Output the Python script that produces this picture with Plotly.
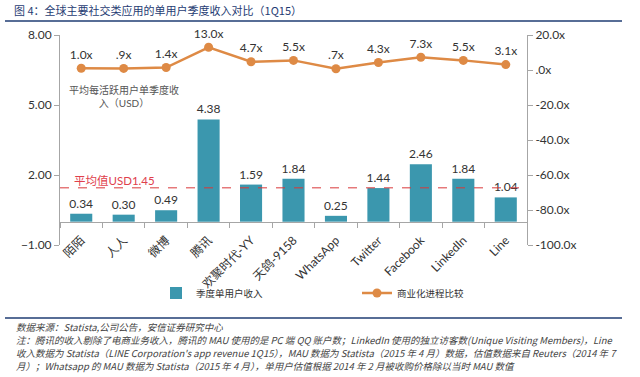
import plotly.graph_objects as go

# ---------------- data ----------------
categories = ["陌陌", "人人", "微博", "腾讯", "欢聚时代-YY", "天鸽-9158",
              "WhatsApp", "Twitter", "Facebook", "LinkedIn", "Line"]
revenue_per_user = [0.34, 0.30, 0.49, 4.38, 1.59, 1.84, 0.25, 1.44, 2.46, 1.84, 1.04]
commercialization = [1.0, 0.9, 1.4, 13.0, 4.7, 5.5, 0.7, 4.3, 7.3, 5.5, 3.1]
average_revenue = 1.45
left_ticks = [-1, 2, 5, 8]
right_ticks = [-100, -80, -60, -40, -20, 0, 20]
right_tick_labels = ["-100.0x", "-80.0x", "-60.0x", "-40.0x", "-20.0x", ".0x", "20.0x"]

series_bar_name = "季度单用户收入"
series_line_name = "商业化进程比较"
title_text = "图 4：全球主要社交类应用的单用户季度收入对比（1Q15）"
footnotes = [
    "数据来源：Statista,公司公告，安信证券研究中心",
    "注：腾讯的收入剔除了电商业务收入，腾讯的 MAU 使用的是 PC 端 QQ 账户数；LinkedIn 使用的独立访客数(Unique Visiting Members)，Line",
    "收入数据为 Statista（LINE Corporation's app revenue 1Q15），MAU 数据为 Statista（2015 年 4 月）数据，估值数据来自 Reuters（2014 年 7",
    "月）；Whatsapp 的 MAU 数据为 Statista（2015 年 4 月），单用户估值根据 2014 年 2 月被收购价格除以当时 MAU 数值",
]

# ---------------- layout helpers ----------------
W, H = 640, 377
L, R, T, B = 60, 527, 35, 245


def px(x):
    return (x - L) / (R - L)


def py(y):
    return (B - y) / (B - T)


FONT = "Lato, 'Noto Sans CJK SC', sans-serif"
CJK = "'Noto Sans CJK SC', sans-serif"
BAR_COLOR = "#3b97ae"
LINE_COLOR = "#de8a45"
AXIS_COLOR = "#a6a6a6"

line_labels = [(f"{v:.1f}x")[1:] if f"{v:.1f}".startswith("0") else f"{v:.1f}x"
               for v in commercialization]

fig = go.Figure()
fig.add_trace(go.Bar(
    x=categories, y=revenue_per_user, name=series_bar_name,
    marker=dict(color=BAR_COLOR, line=dict(width=0)),
    texttemplate="%{y:.2f}", textposition="outside", cliponaxis=False,
    constraintext="none",
    textfont=dict(size=12, color="#333333", family=FONT),
    yaxis="y",
))
fig.add_trace(go.Scatter(
    x=categories, y=commercialization, name=series_line_name,
    mode="lines+markers+text", text=line_labels, textposition="top center",
    textfont=dict(size=12, color="#333333", family=FONT),
    line=dict(color=LINE_COLOR, width=2.5),
    marker=dict(color=LINE_COLOR, size=9),
    cliponaxis=False,
    yaxis="y2",
))

shapes = [
    dict(type="line", xref="paper", yref="y", x0=0, x1=1,
         y0=average_revenue, y1=average_revenue,
         line=dict(color="#d9383a", width=1, dash="dash")),
    dict(type="line", xref="paper", yref="paper", x0=px(5), x1=px(622),
         y0=py(21), y1=py(21), line=dict(color="#1f3c73", width=1.5)),
    dict(type="line", xref="paper", yref="paper", x0=px(5), x1=px(622),
         y0=py(318), y1=py(318), line=dict(color="#1f3c73", width=1.5)),
]

annotations = [
    dict(text=title_text, x=px(12), y=py(10), xref="paper", yref="paper",
         xanchor="left", yanchor="middle", showarrow=False,
         font=dict(size=11, color="#1f3c73", family=CJK)),
    dict(text=f"平均值USD{average_revenue:.2f}", x=px(72), y=py(180),
         xref="paper", yref="paper", xanchor="left", yanchor="middle",
         showarrow=False, font=dict(size=11.5, color="#e0404c", family=FONT)),
    dict(text="平均每活跃用户单季度收<br>入（USD）", x=px(124), y=py(96),
         xref="paper", yref="paper", xanchor="center", yanchor="middle",
         showarrow=False, align="center",
         font=dict(size=10, color="#555555", family=FONT)),
]
for i, (txt, yy) in enumerate(zip(footnotes, [327, 340, 353, 366])):
    annotations.append(dict(
        text=f"<i>{txt}</i>", x=px(14), y=py(yy), xref="paper", yref="paper",
        xanchor="left", yanchor="middle", showarrow=False,
        font=dict(size=9.5, color="#444444", family=CJK)))

fig.update_layout(
    width=W, height=H,
    margin=dict(l=L, r=W - R, t=T, b=H - B, pad=0),
    paper_bgcolor="white", plot_bgcolor="white",
    font=dict(family=FONT, size=12, color="#333333"),
    bargap=0.48,
    showlegend=True,
    legend=dict(orientation="h", x=px(156), y=py(293), xanchor="left",
                yanchor="middle", entrywidth=156, entrywidthmode="pixels",
                font=dict(size=9.5, color="#333333", family=CJK),
                bgcolor="rgba(0,0,0,0)"),
    xaxis=dict(type="category", anchor="free", position=1 / 9,
               range=[-0.5, len(categories) - 0.5],
               showline=True, linecolor=AXIS_COLOR, linewidth=1,
               ticks="outside", tickson="boundaries", ticklen=5,
               tickcolor=AXIS_COLOR, tickangle=-45, ticklabelstandoff=6,
               tickfont=dict(size=12, color="#333333"), showgrid=False,
               zeroline=False),
    yaxis=dict(range=[-1, 8], tickvals=left_ticks, tickformat=".2f",
               showline=True, linecolor=AXIS_COLOR, ticks="outside",
               ticklen=5, tickcolor=AXIS_COLOR, showgrid=False,
               zeroline=False, tickfont=dict(size=12, color="#333333")),
    yaxis2=dict(range=[-100, 20], overlaying="y", side="right",
                tickvals=right_ticks, ticktext=right_tick_labels,
                showline=True, linecolor=AXIS_COLOR, ticks="outside",
                ticklen=5, tickcolor=AXIS_COLOR, showgrid=False,
                zeroline=False, tickfont=dict(size=12, color="#333333")),
    shapes=shapes, annotations=annotations,
)

fig.write_html("out.html",
               config={"displayModeBar": False},
               post_script="document.body.style.margin='0';"
                           "document.body.style.overflow='hidden';")
